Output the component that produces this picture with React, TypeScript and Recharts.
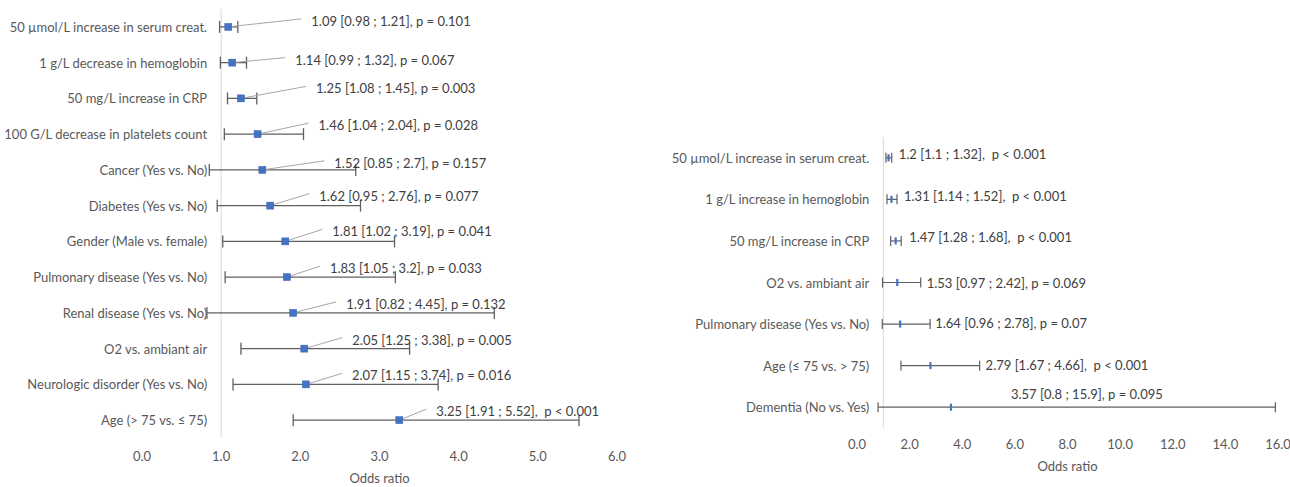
import React from 'react';
import { ScatterChart, Scatter, XAxis, YAxis, ErrorBar, ReferenceLine } from 'recharts';

const FONT = 'Lato, "Noto Sans", sans-serif';

// ---------- Left panel data ----------
const leftCategories = [
  '50 µmol/L increase in serum creat.',
  '1 g/L decrease in hemoglobin',
  '50 mg/L increase in CRP',
  '100 G/L decrease in platelets count',
  'Cancer (Yes vs. No)',
  'Diabetes (Yes vs. No)',
  'Gender (Male vs. female)',
  'Pulmonary disease (Yes vs. No)',
  'Renal disease (Yes vs. No)',
  'O2 vs. ambiant air',
  'Neurologic disorder (Yes vs. No)',
  'Age (> 75 vs. ≤ 75)',
];
const leftOR = [1.09, 1.14, 1.25, 1.46, 1.52, 1.62, 1.81, 1.83, 1.91, 2.05, 2.07, 3.25];
const leftLow = [0.98, 0.99, 1.08, 1.04, 0.85, 0.95, 1.02, 1.05, 0.82, 1.25, 1.15, 1.91];
const leftHigh = [1.21, 1.32, 1.45, 2.04, 2.7, 2.76, 3.19, 3.2, 4.45, 3.38, 3.74, 5.52];
const leftP = ['p = 0.101', 'p = 0.067', 'p = 0.003', 'p = 0.028', 'p = 0.157', 'p = 0.077', 'p = 0.041', 'p = 0.033', 'p = 0.132', 'p = 0.005', 'p = 0.016', ' p < 0.001'];
const leftTicks = [0, 1, 2, 3, 4, 5, 6];

// ---------- Right panel data ----------
const rightCategories = [
  '50 µmol/L increase in serum creat.',
  '1 g/L increase in hemoglobin',
  '50 mg/L increase in CRP',
  'O2 vs. ambiant air',
  'Pulmonary disease (Yes vs. No)',
  'Age (≤ 75 vs. > 75)',
  'Dementia (No vs. Yes)',
];
const rightOR = [1.2, 1.31, 1.47, 1.53, 1.64, 2.79, 3.57];
const rightLow = [1.1, 1.14, 1.28, 0.97, 0.96, 1.67, 0.8];
const rightHigh = [1.32, 1.52, 1.68, 2.42, 2.78, 4.66, 15.9];
const rightP = [' p < 0.001', ' p < 0.001', ' p < 0.001', 'p = 0.069', 'p = 0.07', ' p < 0.001', 'p = 0.095'];
const rightTicks = [0, 2, 4, 6, 8, 10, 12, 14, 16];

// ---------- Layout (label placement, pixels) ----------
const leftLabelDx = [83, 63, 75, 61, 72, 49, 47, 43, 53, 48, 46, 37];
const leftLabelDy = [-6, -3, -10, -9, -7, -10, -10, -9, -9, -9, -9, -9];
const rightLabelAnchor = ['high', 'high', 'high', 'high', 'high', 'high', 'point'];
const rightLabelDx = [7, 7, 8, 6, 5, 6, 60];
const rightLabelDy = [-4, -3, -4, 0, -1, -1, -13];

const TEXT = '#595959';
const LABEL = '#404040';
const BLUE = '#4472C4';

const fmt = (or: number, lo: number, hi: number, p: string) => `${or} [${lo} ; ${hi}], ${p}`;

type PanelProps = {
  width: number;
  height: number;
  margin: { top: number; right: number; bottom: number; left: number };
  yAxisWidth: number;
  xAxisHeight: number;
  domain: [number, number];
  ticks: number[];
  categories: string[];
  or: number[];
  low: number[];
  high: number[];
  p: string[];
  catGap: number;
  variant: 'left' | 'right';
  labelOffset: number;
  tickMargin: number;
};

function ForestPanel(props: PanelProps) {
  const { width, height, margin, yAxisWidth, xAxisHeight, domain, ticks, categories, or, low, high, p, catGap, variant } = props;
  const n = categories.length;
  const plotW = width - margin.left - margin.right - yAxisWidth;
  const shift = (plotW * (1 - domain[0])) / (domain[1] - domain[0]) - catGap;

  const points = or.map((v, i) => ({ x: v, y: i, err: [v - low[i], high[i] - v] }));
  const labels = or.map((v, i) => ({
    x: variant === 'right' && rightLabelAnchor[i] === 'high' ? high[i] : v,
    y: i,
    text: fmt(v, low[i], high[i], p[i]),
  }));

  const CatTick = (tp: any) => (
    <text
      x={tp.x + shift}
      y={tp.y}
      textAnchor="end"
      dominantBaseline="central"
      fill={TEXT}
      fontSize={13}
      fontFamily={FONT}
    >
      {categories[tp.payload.value]}
    </text>
  );

  const LabelShape = (sp: any) => {
    const { cx, cy, payload } = sp;
    const i = payload.y;
    if (variant === 'left') {
      const tx = cx + leftLabelDx[i];
      const ty = cy + leftLabelDy[i];
      return (
        <g>
          <line x1={cx} y1={cy} x2={tx - 10} y2={ty - 2} stroke="#a6a6a6" strokeWidth={1} />
          <text x={tx} y={ty} dominantBaseline="central" fill={LABEL} fontSize={13} fontFamily={FONT} style={{ whiteSpace: 'pre' }}>
            {payload.text}
          </text>
        </g>
      );
    }
    const tx = cx + rightLabelDx[i];
    const ty = cy + rightLabelDy[i];
    return (
      <text x={tx} y={ty} dominantBaseline="central" fill={LABEL} fontSize={13} fontFamily={FONT} style={{ whiteSpace: 'pre' }}>
        {payload.text}
      </text>
    );
  };

  const MarkerShape = (sp: any) => {
    const { cx, cy } = sp;
    if (variant === 'left') {
      return <rect x={cx - 3.5} y={cy - 3.5} width={7} height={7} fill={BLUE} stroke="#3a63ad" strokeWidth={0.5} />;
    }
    return <rect x={cx - 1.1} y={cy - 3.5} width={2.2} height={7} fill={BLUE} />;
  };

  return (
    <ScatterChart width={width} height={height} margin={margin}>
      <XAxis
        type="number"
        dataKey="x"
        domain={domain}
        ticks={ticks}
        interval={0}
        allowDataOverflow
        axisLine={false}
        tickLine={false}
        tickSize={0}
        tickMargin={props.tickMargin}
        height={xAxisHeight}
        tickFormatter={(v: number) => v.toFixed(1)}
        tick={{ fill: TEXT, fontSize: 13, fontFamily: FONT }}
        label={{ value: 'Odds ratio', position: 'insideBottom', offset: props.labelOffset, fill: TEXT, fontSize: 13, fontFamily: FONT }}
      />
      <YAxis
        type="number"
        dataKey="y"
        domain={[-0.5, n - 0.5]}
        ticks={categories.map((_, i) => i)}
        interval={0}
        reversed
        width={yAxisWidth}
        axisLine={false}
        tickLine={false}
        tickSize={0}
        tickMargin={0}
        tick={CatTick}
      />
      <ReferenceLine x={1} stroke="#d9d9d9" strokeWidth={1} ifOverflow="extendDomain" />
      <Scatter data={labels} shape={LabelShape} isAnimationActive={false} />
      <Scatter data={points} shape={MarkerShape} isAnimationActive={false}>
        <ErrorBar
          dataKey="err"
          direction="x"
          width={variant === 'left' ? 6 : 5}
          stroke="#5f5f5f"
          strokeWidth={variant === 'left' ? 1.3 : 1.2}
          isAnimationActive={false}
        />
      </Scatter>
    </ScatterChart>
  );
}

export default function App() {
  return (
    <div style={{ position: 'absolute', left: 0, top: 0, width: 1290, height: 487, background: '#ffffff', overflow: 'hidden' }}>
      <div style={{ position: 'absolute', left: 0, top: 0 }}>
        <ForestPanel
          width={640}
          height={487}
          margin={{ top: 9, right: 23, bottom: 0, left: 0 }}
          yAxisWidth={142}
          xAxisHeight={49}
          domain={[0, 6]}
          ticks={leftTicks}
          categories={leftCategories}
          or={leftOR}
          low={leftLow}
          high={leftHigh}
          p={leftP}
          catGap={14}
          variant="left"
          labelOffset={4}
          tickMargin={14}
        />
      </div>
      <div style={{ position: 'absolute', left: 640, top: 0 }}>
        <ForestPanel
          width={650}
          height={487}
          margin={{ top: 137, right: 12, bottom: 15, left: 0 }}
          yAxisWidth={217}
          xAxisHeight={44}
          domain={[0, 16]}
          ticks={rightTicks}
          categories={rightCategories}
          or={rightOR}
          low={rightLow}
          high={rightHigh}
          p={rightP}
          catGap={14}
          variant="right"
          labelOffset={1}
          tickMargin={12}
        />
      </div>
    </div>
  );
}
